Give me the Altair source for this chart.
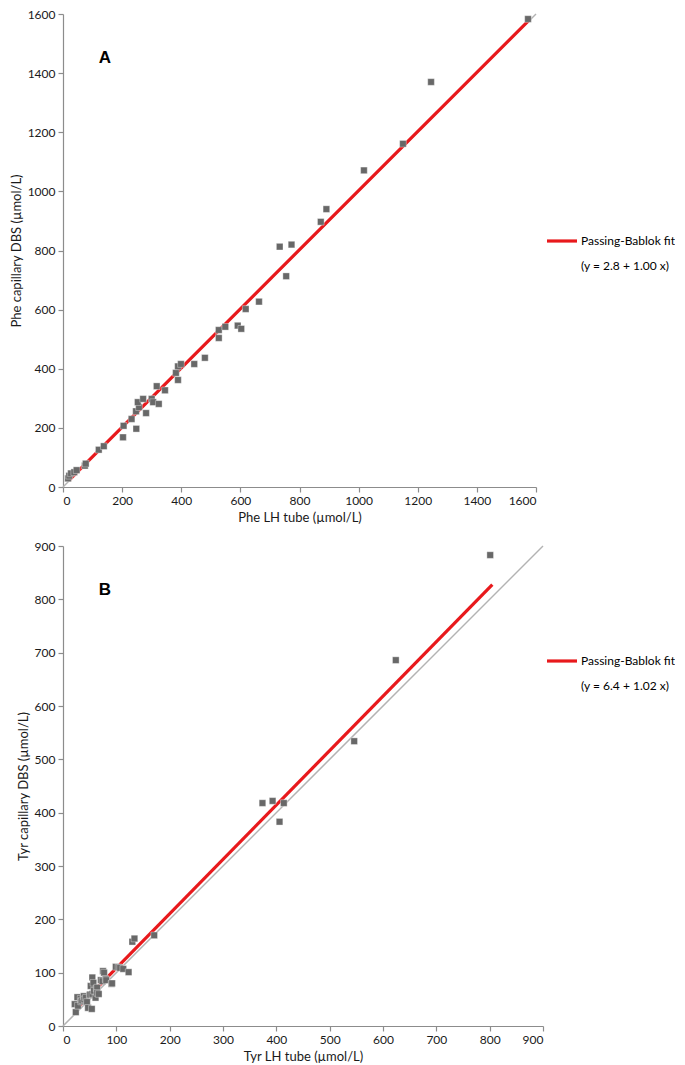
import altair as alt
import pandas as pd

# ---------------- Panel A: Phe ----------------
phe_lh = [17, 21, 27, 38, 46, 74, 77, 121, 138, 203, 205, 232, 248, 247, 257, 253,
          271, 281, 300, 305, 324, 317, 345, 382, 389, 389, 399, 444, 480, 527,
          527, 549, 591, 603, 618, 663, 733, 755, 773, 872, 891, 1018, 1150, 1245, 1573]
phe_dbs = [29, 38, 46, 50, 57, 72, 79, 126, 138, 168, 207, 230, 197, 256, 270, 287,
           298, 250, 298, 287, 281, 341, 327, 386, 362, 408, 416, 416, 437, 504,
           531, 542, 546, 535, 602, 627, 813, 713, 820, 897, 940, 1071, 1161, 1370, 1583]
phe_fit = {"intercept": 2.8, "slope": 1.00, "x_from": 20, "x_to": 1575}

# ---------------- Panel B: Tyr ----------------
tyr_lh = [22, 24, 27, 28, 33, 34, 36, 39, 40, 43, 45, 47, 50, 51, 52, 54, 55, 55,
          57, 58, 61, 63, 64, 64, 67, 71, 74, 75, 77, 80, 81, 91, 92, 99, 104, 107,
          113, 123, 130, 134, 171, 374, 393, 414, 406, 546, 624, 801]
tyr_dbs = [41, 26, 54, 38, 51, 46, 48, 56, 50, 53, 45, 34, 58, 59, 75, 32, 91, 60,
           81, 66, 53, 70, 72, 62, 60, 86, 84, 103, 100, 88, 86, 79, 80, 111, 110, 109,
           107, 101, 158, 164, 170, 418, 422, 418, 383, 534, 686, 883]
tyr_fit = {"intercept": 6.4, "slope": 1.02, "x_from": 25, "x_to": 805}

legend_label = "Passing-Bablok fit"
eq_labels = ["(y = 2.8 + 1.00 x)", "(y = 6.4 + 1.02 x)"]
panel_letters = ["A", "B"]
x_titles = ["Phe LH tube (µmol/L)", "Tyr LH tube (µmol/L)"]
y_titles = ["Phe capillary DBS (µmol/L)", "Tyr capillary DBS (µmol/L)"]

FONT = "Lato"
RED = "#e8191c"
GREY_PT = "#686868"
IDENT = "#b3b3b3"


def panel(xs, ys, fit, xmax, step, letter, eq, xtitle, ytitle, w, h, leg_x, leg_y):
    pts = pd.DataFrame({"lh": xs, "dbs": ys})
    ident = pd.DataFrame({"lh": [0], "dbs": [0], "lh2": [xmax], "dbs2": [xmax]})
    fx0, fx1 = fit["x_from"], fit["x_to"]
    fitdf = pd.DataFrame({
        "lh": [fx0], "dbs": [fit["intercept"] + fit["slope"] * fx0],
        "lh2": [fx1], "dbs2": [fit["intercept"] + fit["slope"] * fx1],
    })
    ticks = list(range(0, xmax + 1, step))
    xscale = alt.Scale(domain=[0, xmax], nice=False, zero=False)
    yscale = alt.Scale(domain=[0, xmax], nice=False, zero=False)

    xax = alt.Axis(values=ticks, grid=False, tickSize=5,
                   labelPadding=3, titlePadding=5, format="d")
    yax = alt.Axis(values=ticks, grid=False, tickSize=5,
                   labelPadding=3, titlePadding=4, format="d")

    def X():
        return alt.X("lh:Q", scale=xscale, axis=xax, title=xtitle)

    def Y():
        return alt.Y("dbs:Q", scale=yscale, axis=yax, title=ytitle)

    ident_l = alt.Chart(ident).mark_rule(color=IDENT, strokeWidth=1.5).encode(
        x=X(), y=Y(), x2="lh2:Q", y2="dbs2:Q")
    fit_l = alt.Chart(fitdf).mark_rule(color=RED, strokeWidth=3.2).encode(
        x=X(), y=Y(), x2="lh2:Q", y2="dbs2:Q")
    pts_l = alt.Chart(pts).mark_square(size=44, color=GREY_PT, opacity=1,
                                       stroke="white", strokeWidth=0.6,
                                       strokeOpacity=0.6).encode(x=X(), y=Y())

    letter_l = alt.Chart(pd.DataFrame({"t": [letter]})).mark_text(
        font="Liberation Sans", fontSize=17, fontWeight="bold", color="black",
        align="center", baseline="middle").encode(
        text="t:N", x=alt.value(42), y=alt.value(44))

    leg_line = alt.Chart(pd.DataFrame({"t": [legend_label]})).mark_rule(
        color=RED, strokeWidth=3.2).encode(
        x=alt.value(leg_x), x2=alt.value(leg_x + 30), y=alt.value(leg_y))
    leg_txt = alt.Chart(pd.DataFrame({"t": [legend_label]})).mark_text(
        font=FONT, fontSize=12, color="black", align="left", baseline="middle").encode(
        text="t:N", x=alt.value(leg_x + 34), y=alt.value(leg_y))
    eq_txt = alt.Chart(pd.DataFrame({"t": [eq]})).mark_text(
        font=FONT, fontSize=12, color="black", align="left", baseline="middle").encode(
        text="t:N", x=alt.value(leg_x + 34), y=alt.value(leg_y + 25))

    return alt.layer(ident_l, fit_l, pts_l, letter_l, leg_line, leg_txt, eq_txt).properties(
        width=w, height=h)


chart_a = panel(phe_lh, phe_dbs, phe_fit, 1600, 200, panel_letters[0], eq_labels[0],
                x_titles[0], y_titles[0], 473, 473, 484, 227)
chart_b = panel(tyr_lh, tyr_dbs, tyr_fit, 900, 100, panel_letters[1], eq_labels[1],
                x_titles[1], y_titles[1], 480, 480, 484, 115)

chart = alt.vconcat(chart_a, chart_b, spacing=16).properties(
    padding={"left": 2, "top": 0, "right": 0, "bottom": 0}
).configure_view(stroke=None).configure_axis(
    domainColor="#8c8c8c", tickColor="#8c8c8c", labelColor="#1a1a1a",
    titleColor="#1a1a1a", labelFont=FONT, titleFont=FONT, labelFontSize=12,
    titleFontSize=13, titleFontWeight="normal", domainWidth=1.2, tickWidth=1.2
)

chart.save("out.html", embed_options={"renderer": "svg", "actions": False})
